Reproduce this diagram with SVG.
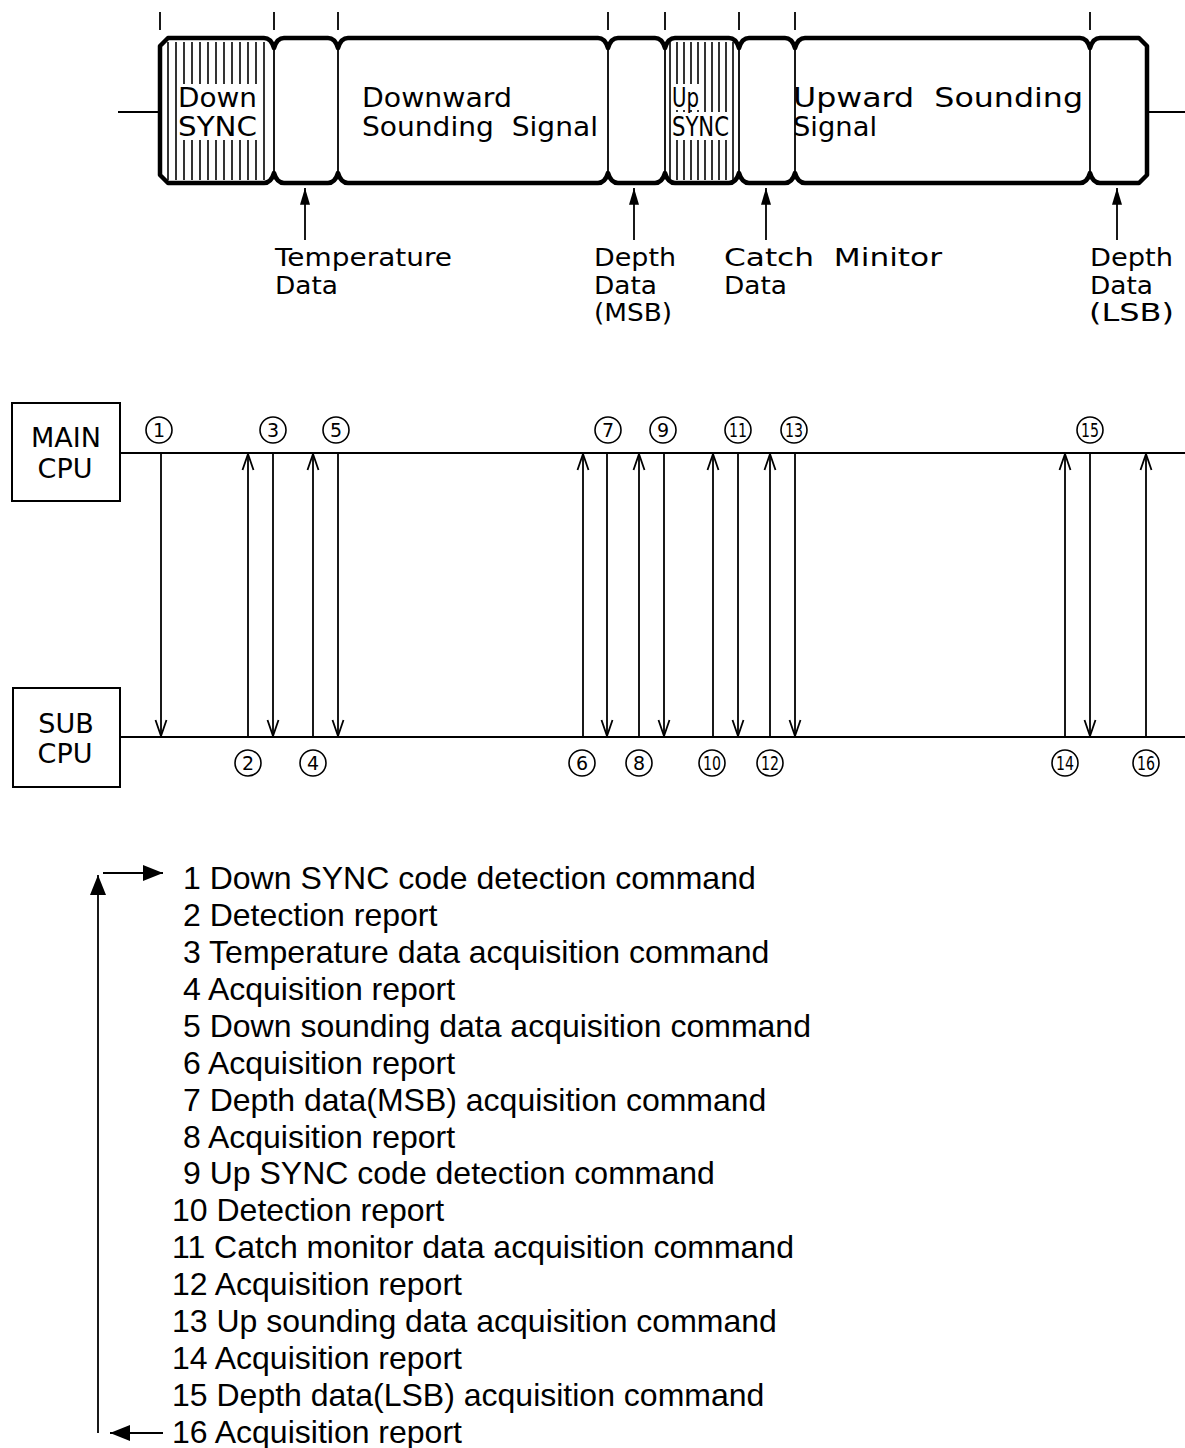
<svg xmlns="http://www.w3.org/2000/svg" width="1185" height="1448" viewBox="0 0 1185 1448">
<style>
.bar{fill:none;stroke:#000;stroke-width:4.5;stroke-linejoin:round}
.thin{stroke:#000;stroke-width:1.8;fill:none}
.hatch{stroke:#000;stroke-width:1.6}
.lbl{font-family:"DejaVu Sans",sans-serif;font-size:26px;fill:#000;white-space:pre}
.dl{font-family:"DejaVu Sans",sans-serif;font-size:24px;fill:#000;white-space:pre}
.cpu{font-family:"DejaVu Sans",sans-serif;font-size:27px;fill:#000;text-anchor:middle}
.num{font-family:"DejaVu Sans",sans-serif;font-size:19px;fill:#000;text-anchor:middle}
.leg{font-family:"Liberation Sans",Arial,sans-serif;font-size:32px;fill:#000}
.seq{stroke:#000;stroke-width:1.8;fill:none}
.box{fill:#fff;stroke:#000;stroke-width:2}
</style>
<defs>
<marker id="open" markerUnits="userSpaceOnUse" markerWidth="20" markerHeight="20" viewBox="-18 -8 20 16" refX="0" refY="0" orient="auto">
<path d="M-16,-5.5 L0,0 L-16,5.5" fill="none" stroke="#000" stroke-width="1.8"/>
</marker>
<marker id="solid" markerUnits="userSpaceOnUse" markerWidth="20" markerHeight="20" viewBox="-16 -8 18 16" refX="0" refY="0" orient="auto">
<path d="M-15,-4.5 L0,0 L-15,4.5 Z" fill="#000"/>
</marker>
<marker id="big" markerUnits="userSpaceOnUse" markerWidth="24" markerHeight="24" viewBox="-22 -10 24 20" refX="0" refY="0" orient="auto">
<path d="M-20,-8 L0,0 L-20,8 Z" fill="#000"/>
</marker>
</defs>

<g id="signal-bar">
  <g class="thin">
    <line x1="160" y1="12" x2="160" y2="30"/>
    <line x1="274" y1="12" x2="274" y2="30"/>
    <line x1="338" y1="12" x2="338" y2="30"/>
    <line x1="608" y1="12" x2="608" y2="30"/>
    <line x1="665" y1="12" x2="665" y2="30"/>
    <line x1="739" y1="12" x2="739" y2="30"/>
    <line x1="795" y1="12" x2="795" y2="30"/>
    <line x1="1090" y1="12" x2="1090" y2="30"/>
  </g>
  <line class="thin" x1="118" y1="112" x2="160" y2="112"/>
  <line class="thin" x1="1147" y1="112" x2="1185" y2="112"/>
  <g class="hatch">
    <line x1="168" y1="42" x2="168" y2="180"/><line x1="176" y1="42" x2="176" y2="180"/>
    <line x1="184" y1="42" x2="184" y2="180"/><line x1="192" y1="42" x2="192" y2="180"/>
    <line x1="200" y1="42" x2="200" y2="180"/><line x1="208" y1="42" x2="208" y2="180"/>
    <line x1="216" y1="42" x2="216" y2="180"/><line x1="224" y1="42" x2="224" y2="180"/>
    <line x1="232" y1="42" x2="232" y2="180"/><line x1="240" y1="42" x2="240" y2="180"/>
    <line x1="248" y1="42" x2="248" y2="180"/><line x1="256" y1="42" x2="256" y2="180"/>
    <line x1="264" y1="42" x2="264" y2="180"/>
  </g>
  <rect x="178" y="84" width="82" height="56" fill="#fff"/>
  <g class="hatch">
    <line x1="670" y1="42" x2="670" y2="180"/><line x1="677" y1="42" x2="677" y2="180"/>
    <line x1="684" y1="42" x2="684" y2="180"/><line x1="691" y1="42" x2="691" y2="180"/>
    <line x1="698" y1="42" x2="698" y2="180"/><line x1="705" y1="42" x2="705" y2="180"/>
    <line x1="712" y1="42" x2="712" y2="180"/><line x1="719" y1="42" x2="719" y2="180"/>
    <line x1="726" y1="42" x2="726" y2="180"/><line x1="733" y1="42" x2="733" y2="180"/>
  </g>
  <rect x="672" y="84" width="29" height="26" fill="#fff"/>
  <rect x="672" y="112" width="59" height="28" fill="#fff"/>
  <g class="thin">
    <line x1="274" y1="48" x2="274" y2="173"/>
    <line x1="338" y1="48" x2="338" y2="173"/>
    <line x1="608" y1="48" x2="608" y2="173"/>
    <line x1="665" y1="48" x2="665" y2="173"/>
    <line x1="739" y1="48" x2="739" y2="173"/>
    <line x1="795" y1="48" x2="795" y2="173"/>
    <line x1="1090" y1="48" x2="1090" y2="173"/>
  </g>
  <path class="bar" d="M168,38
    L264,38 Q271,38 274,48 Q277,38 284,38
    L328,38 Q335,38 338,48 Q341,38 348,38
    L598,38 Q605,38 608,48 Q611,38 618,38
    L655,38 Q662,38 665,48 Q668,38 675,38
    L729,38 Q736,38 739,48 Q742,38 749,38
    L785,38 Q792,38 795,48 Q798,38 805,38
    L1080,38 Q1087,38 1090,48 Q1093,38 1100,38
    L1139,38 L1147,46 L1147,175 L1139,183
    L1100,183 Q1093,183 1090,173 Q1087,183 1080,183
    L805,183 Q798,183 795,173 Q792,183 785,183
    L749,183 Q742,183 739,173 Q736,183 729,183
    L675,183 Q668,183 665,173 Q662,183 655,183
    L618,183 Q611,183 608,173 Q605,183 598,183
    L348,183 Q341,183 338,173 Q335,183 328,183
    L284,183 Q277,183 274,173 Q271,183 264,183
    L168,183 L160,175 L160,46 Z"/>
  <text class="lbl" x="178" y="107" textLength="79" lengthAdjust="spacingAndGlyphs">Down</text>
  <text class="lbl" x="178" y="136" textLength="79" lengthAdjust="spacingAndGlyphs">SYNC</text>
  <text class="lbl" x="362" y="107" textLength="150" lengthAdjust="spacingAndGlyphs">Downward</text>
  <text class="lbl" x="362" y="136" textLength="236" lengthAdjust="spacingAndGlyphs">Sounding  Signal</text>
  <text class="lbl" x="672" y="107" textLength="27" lengthAdjust="spacingAndGlyphs">Up</text>
  <text class="lbl" x="672" y="136" textLength="57" lengthAdjust="spacingAndGlyphs">SYNC</text>
  <text class="lbl" x="793" y="107" textLength="290" lengthAdjust="spacingAndGlyphs">Upward  Sounding</text>
  <text class="lbl" x="793" y="136" textLength="84" lengthAdjust="spacingAndGlyphs">Signal</text>
</g>

<g id="data-labels">
  <text class="dl" x="275" y="266" textLength="177" lengthAdjust="spacingAndGlyphs">Temperature</text>
  <text class="dl" x="275" y="294" textLength="63" lengthAdjust="spacingAndGlyphs">Data</text>
  <text class="dl" x="594" y="266" textLength="82" lengthAdjust="spacingAndGlyphs">Depth</text>
  <text class="dl" x="594" y="294" textLength="63" lengthAdjust="spacingAndGlyphs">Data</text>
  <text class="dl" x="594" y="321" textLength="78" lengthAdjust="spacingAndGlyphs">(MSB)</text>
  <text class="dl" x="724" y="266" textLength="218" lengthAdjust="spacingAndGlyphs">Catch  Minitor</text>
  <text class="dl" x="724" y="294" textLength="63" lengthAdjust="spacingAndGlyphs">Data</text>
  <text class="dl" x="1090" y="266" textLength="83" lengthAdjust="spacingAndGlyphs">Depth</text>
  <text class="dl" x="1090" y="294" textLength="63" lengthAdjust="spacingAndGlyphs">Data</text>
  <text class="dl" x="1089" y="321" textLength="85" lengthAdjust="spacingAndGlyphs">(LSB)</text>
</g>

<g id="main-cpu">
  <rect class="box" x="12" y="403" width="108" height="98"/>
  <text class="cpu" x="66" y="447">MAIN</text>
  <text class="cpu" x="65" y="478">CPU</text>
</g>
<g id="sub-cpu">
  <rect class="box" x="13" y="688" width="107" height="99"/>
  <text class="cpu" x="66" y="733">SUB</text>
  <text class="cpu" x="65" y="763">CPU</text>
</g>

<g id="step-numbers">
  <g fill="none" stroke="#000" stroke-width="1.6">
    <circle cx="159" cy="430" r="13"/><circle cx="273" cy="430" r="13"/><circle cx="336" cy="430" r="13"/>
    <circle cx="608" cy="430" r="13"/><circle cx="663" cy="430" r="13"/><circle cx="738" cy="430" r="13"/>
    <circle cx="794" cy="430" r="13"/><circle cx="1090" cy="430" r="13"/>
    <circle cx="248" cy="763" r="13"/><circle cx="313" cy="763" r="13"/><circle cx="582" cy="763" r="13"/>
    <circle cx="639" cy="763" r="13"/><circle cx="712" cy="763" r="13"/><circle cx="770" cy="763" r="13"/>
    <circle cx="1065" cy="763" r="13"/><circle cx="1146" cy="763" r="13"/>
  </g>
  <text class="num" x="159" y="437">1</text>
  <text class="num" x="273" y="437">3</text>
  <text class="num" x="336" y="437">5</text>
  <text class="num" x="608" y="437">7</text>
  <text class="num" x="663" y="437">9</text>
  <text class="num" x="738" y="437" textLength="18" lengthAdjust="spacingAndGlyphs">11</text>
  <text class="num" x="794" y="437" textLength="18" lengthAdjust="spacingAndGlyphs">13</text>
  <text class="num" x="1090" y="437" textLength="18" lengthAdjust="spacingAndGlyphs">15</text>
  <text class="num" x="248" y="770">2</text>
  <text class="num" x="313" y="770">4</text>
  <text class="num" x="582" y="770">6</text>
  <text class="num" x="639" y="770">8</text>
  <text class="num" x="712" y="770" textLength="18" lengthAdjust="spacingAndGlyphs">10</text>
  <text class="num" x="770" y="770" textLength="18" lengthAdjust="spacingAndGlyphs">12</text>
  <text class="num" x="1065" y="770" textLength="18" lengthAdjust="spacingAndGlyphs">14</text>
  <text class="num" x="1146" y="770" textLength="18" lengthAdjust="spacingAndGlyphs">16</text>
</g>

<g id="legend">
  <text class="leg" x="183" y="889">1 Down SYNC code detection command</text>
  <text class="leg" x="183" y="926">2 Detection report</text>
  <text class="leg" x="183" y="963">3 Temperature data acquisition command</text>
  <text class="leg" x="183" y="1000">4 Acquisition report</text>
  <text class="leg" x="183" y="1037">5 Down sounding data acquisition command</text>
  <text class="leg" x="183" y="1074">6 Acquisition report</text>
  <text class="leg" x="183" y="1111">7 Depth data(MSB) acquisition command</text>
  <text class="leg" x="183" y="1148">8 Acquisition report</text>
  <text class="leg" x="183" y="1184">9 Up SYNC code detection command</text>
  <text class="leg" x="172" y="1221">10 Detection report</text>
  <text class="leg" x="172" y="1258">11 Catch monitor data acquisition command</text>
  <text class="leg" x="172" y="1295">12 Acquisition report</text>
  <text class="leg" x="172" y="1332">13 Up sounding data acquisition command</text>
  <text class="leg" x="172" y="1369">14 Acquisition report</text>
  <text class="leg" x="172" y="1406">15 Depth data(LSB) acquisition command</text>
  <text class="leg" x="172" y="1443">16 Acquisition report</text>
</g>

<g id="connectors">
  <line class="seq" x1="120" y1="453" x2="1185" y2="453"/>
  <line class="seq" x1="120" y1="737" x2="1185" y2="737"/>
  <line class="seq" x1="161" y1="453" x2="161" y2="736" marker-end="url(#open)"/>
  <line class="seq" x1="273" y1="453" x2="273" y2="736" marker-end="url(#open)"/>
  <line class="seq" x1="338" y1="453" x2="338" y2="736" marker-end="url(#open)"/>
  <line class="seq" x1="607" y1="453" x2="607" y2="736" marker-end="url(#open)"/>
  <line class="seq" x1="664" y1="453" x2="664" y2="736" marker-end="url(#open)"/>
  <line class="seq" x1="738" y1="453" x2="738" y2="736" marker-end="url(#open)"/>
  <line class="seq" x1="795" y1="453" x2="795" y2="736" marker-end="url(#open)"/>
  <line class="seq" x1="1090" y1="453" x2="1090" y2="736" marker-end="url(#open)"/>
  <line class="seq" x1="248" y1="737" x2="248" y2="454" marker-end="url(#open)"/>
  <line class="seq" x1="313" y1="737" x2="313" y2="454" marker-end="url(#open)"/>
  <line class="seq" x1="583" y1="737" x2="583" y2="454" marker-end="url(#open)"/>
  <line class="seq" x1="639" y1="737" x2="639" y2="454" marker-end="url(#open)"/>
  <line class="seq" x1="713" y1="737" x2="713" y2="454" marker-end="url(#open)"/>
  <line class="seq" x1="770" y1="737" x2="770" y2="454" marker-end="url(#open)"/>
  <line class="seq" x1="1065" y1="737" x2="1065" y2="454" marker-end="url(#open)"/>
  <line class="seq" x1="1146" y1="737" x2="1146" y2="454" marker-end="url(#open)"/>
  <line class="seq" x1="305" y1="240" x2="305" y2="188" marker-end="url(#solid)"/>
  <line class="seq" x1="634" y1="240" x2="634" y2="188" marker-end="url(#solid)"/>
  <line class="seq" x1="766" y1="240" x2="766" y2="188" marker-end="url(#solid)"/>
  <line class="seq" x1="1117" y1="240" x2="1117" y2="188" marker-end="url(#solid)"/>
  <line class="seq" x1="98" y1="1433" x2="98" y2="875" marker-end="url(#big)"/>
  <line class="seq" x1="103" y1="873" x2="163" y2="873" marker-end="url(#big)"/>
  <line class="seq" x1="163" y1="1433" x2="110" y2="1433" marker-end="url(#big)"/>
</g>
</svg>
